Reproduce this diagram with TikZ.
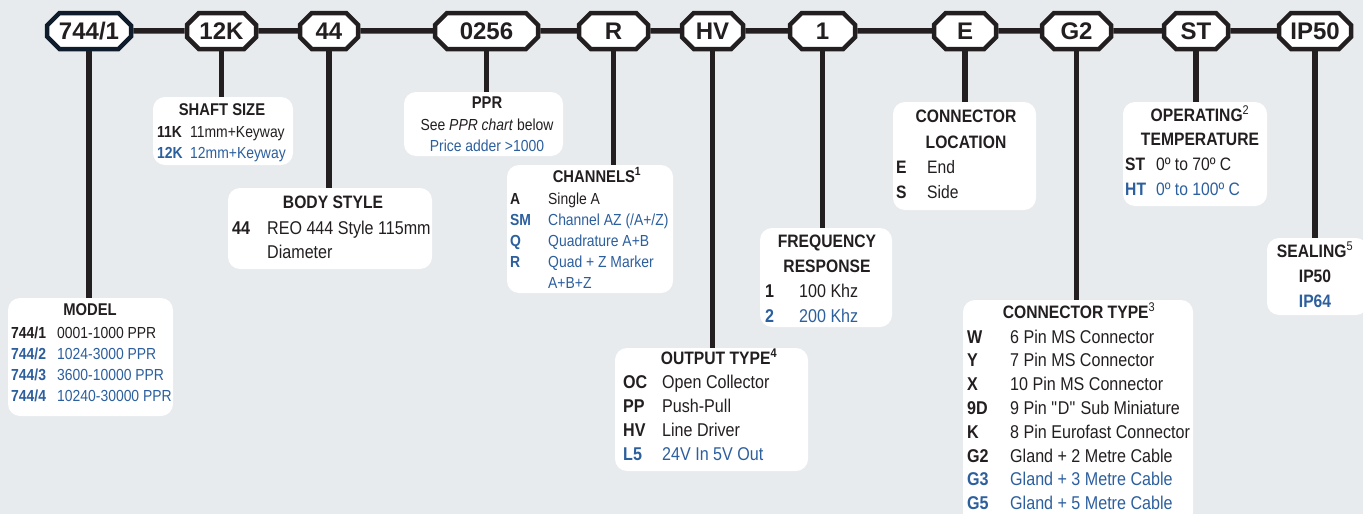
\documentclass[tikz,border=0pt]{standalone}
\usepackage{fontspec}
\setmainfont{Liberation Sans}[FakeStretch=0.87]
\newfontfamily\codefont{Liberation Sans}
\usepackage{array}
\usepackage{xcolor}
\usetikzlibrary{shapes.misc}

\definecolor{ink}{HTML}{231F20}
\definecolor{navy}{HTML}{0E1C2B}
\definecolor{reoblue}{HTML}{2C5F9E}
\definecolor{paper}{HTML}{E8EBED}
\newcommand\blu[1]{\textcolor{reoblue}{#1}}
\newcommand\brow[2]{\blu{#1} & \blu{#2}}
\newcommand\lines[1]{\begin{tabular}[t]{@{}c@{}}#1\end{tabular}}

\tikzset{
  codebox/.style={chamfered rectangle, chamfered rectangle xsep=9pt,
    draw=ink, line width=4.5pt, fill=white, minimum height=36pt, inner sep=0pt,
    text=ink, font=\codefont\bfseries\fontsize{24}{24}\selectfont},
  infobox/.style={fill=white, rounded corners=12pt, inner sep=0pt},
  link/.style={draw=ink, line width=5.5pt},
  head/.style={anchor=base, inner sep=0pt, text=ink,
    font=\bfseries\fontsize{17}{21}\selectfont},
  headb/.style={anchor=base, inner sep=0pt, text=ink,
    font=\bfseries\fontsize{18}{25}\selectfont},
  rows/.style={anchor=base west, inner sep=0pt, text=ink,
    font=\fontsize{16}{21.3}\selectfont},
  rowsb/.style={anchor=base west, inner sep=0pt, text=ink,
    font=\fontsize{18.5}{24.5}\selectfont},
}

\begin{document}
\begin{tikzpicture}[x=1pt,y=-1pt]
  \useasboundingbox[fill=paper] (0,0) rectangle (1363,514);

  % order code
  \node[codebox, draw=navy, minimum width=84pt] (c1) at (89,31) {744/1};
  \node[codebox, minimum width=69pt] (c2) at (221.5,31) {12K};
  \node[codebox, minimum width=58pt] (c3) at (329,31) {44};
  \node[codebox, minimum width=103pt] (c4) at (486.5,31) {0256};
  \node[codebox, minimum width=69pt] (c5) at (613.5,31) {R};
  \node[codebox, minimum width=61pt] (c6) at (712.5,31) {HV};
  \node[codebox, minimum width=65pt] (c7) at (822.5,31) {1};
  \node[codebox, minimum width=62pt] (c8) at (965,31) {E};
  \node[codebox, minimum width=69pt] (c9) at (1076.5,31) {G2};
  \node[codebox, minimum width=64pt] (c10) at (1196,31) {ST};
  \node[codebox, minimum width=72pt] (c11) at (1315,31) {IP50};

  \foreach \a/\b in {c1/c2,c2/c3,c3/c4,c4/c5,c5/c6,c6/c7,c7/c8,c8/c9,c9/c10,c10/c11}
    \draw[link] (\a) -- (\b);

  % option boxes
  \node[infobox, minimum width=165pt, minimum height=118pt] (model) at (90.5,357) {};
  \node[infobox, minimum width=140pt, minimum height=68pt] (shaft) at (223,131) {};
  \node[infobox, minimum width=204pt, minimum height=81pt] (body) at (330,228.5) {};
  \node[infobox, minimum width=159pt, minimum height=64pt] (ppr) at (483.5,124) {};
  \node[infobox, minimum width=166pt, minimum height=128pt] (chan) at (590,229) {};
  \node[infobox, minimum width=193pt, minimum height=123pt] (output) at (711.5,409.5) {};
  \node[infobox, minimum width=132pt, minimum height=99pt] (freq) at (826,277.5) {};
  \node[infobox, minimum width=143pt, minimum height=108pt] (loc) at (964.5,156) {};
  \node[infobox, minimum width=230pt, minimum height=225pt] (ctype) at (1078,412.5) {};
  \node[infobox, minimum width=144pt, minimum height=104pt] (temp) at (1195,154) {};
  \node[infobox, minimum width=101pt, minimum height=77pt] (seal) at (1317.5,276.5) {};

  \foreach \a/\b in {c1/model,c2/shaft,c3/body,c4/ppr,c5/chan,c6/output,c7/freq,c8/loc,c9/ctype,c10/temp,c11/seal}
    \draw[link] (\a.south) -- (\a.south |- \b.north);

  % model
  \node[head] (model-t) at (90,315) {MODEL};
  \node[rows] (model-l) at (11,338) {\begin{tabular}[t]{@{}>{\bfseries}p{46pt}@{}l@{}}
    744/1 & 0001-1000 PPR\\
    \brow{744/2}{1024-3000 PPR}\\
    \brow{744/3}{3600-10000 PPR}\\
    \brow{744/4}{10240-30000 PPR}
  \end{tabular}};

  % shaft size
  \node[head] (shaft-t) at (222,115) {SHAFT SIZE};
  \node[rows] (shaft-l) at (157,137) {\begin{tabular}[t]{@{}>{\bfseries}p{33pt}@{}l@{}}
    11K & 11mm+Keyway\\
    \brow{12K}{12mm+Keyway}
  \end{tabular}};

  % body style
  \node[headb] (body-t) at (333,208) {BODY STYLE};
  \node[rowsb, font=\fontsize{18.5}{24}\selectfont] (body-l) at (232,234) {\begin{tabular}[t]{@{}>{\bfseries}p{35pt}@{}l@{}}
    44 & REO 444 Style 115mm\\
       & Diameter
  \end{tabular}};

  % ppr
  \node[head] (ppr-t) at (487,108) {PPR};
  \node[rows, anchor=base] (ppr-a) at (487,130) {See \textit{PPR chart} below};
  \node[rows, anchor=base, text=reoblue] (ppr-b) at (487,151) {Price adder >1000};

  % channels
  \node[head] (chan-t) at (597,182) {CHANNELS\textsuperscript{1}};
  \node[rows, font=\fontsize{16}{21}\selectfont] (chan-l) at (510,204) {\begin{tabular}[t]{@{}>{\bfseries}p{38pt}@{}l@{}}
    A & Single A\\
    \brow{SM}{Channel AZ (/A+/Z)}\\
    \brow{Q}{Quadrature A+B}\\
    \brow{R}{Quad + Z Marker}\\
        & \blu{A+B+Z}
  \end{tabular}};

  % frequency response
  \node[headb] (freq-t) at (827,247) {\lines{FREQUENCY\\RESPONSE}};
  \node[rowsb, font=\fontsize{18.5}{25}\selectfont] (freq-l) at (765,297) {\begin{tabular}[t]{@{}>{\bfseries}p{34pt}@{}l@{}}
    1 & 100 Khz\\
    \brow{2}{200 Khz}
  \end{tabular}};

  % output type
  \node[headb] (output-t) at (719,364) {OUTPUT TYPE\textsuperscript{4}};
  \node[rowsb, font=\fontsize{18.5}{24.3}\selectfont] (output-l) at (623,388) {\begin{tabular}[t]{@{}>{\bfseries}p{39pt}@{}l@{}}
    OC & Open Collector\\
    PP & Push-Pull\\
    HV & Line Driver\\
    \brow{L5}{24V In 5V Out}
  \end{tabular}};

  % connector location
  \node[headb, font=\bfseries\fontsize{18}{26}\selectfont] (loc-t) at (966,122) {\lines{CONNECTOR\\LOCATION}};
  \node[rowsb, font=\fontsize{18}{25}\selectfont] (loc-l) at (896,173) {\begin{tabular}[t]{@{}>{\bfseries}p{31pt}@{}l@{}}
    E & End\\
    S & Side
  \end{tabular}};

  % operating temperature
  \node[headb, font=\bfseries\fontsize{18}{24}\selectfont] (temp-t) at (1200,121) {\lines{OPERATING\textsuperscript{\mdseries 2}\\TEMPERATURE}};
  \node[rowsb, font=\fontsize{18}{25}\selectfont] (temp-l) at (1125,170) {\begin{tabular}[t]{@{}>{\bfseries}p{31pt}@{}l@{}}
    ST & 0º to 70º C\\
    \brow{HT}{0º to 100º C}
  \end{tabular}};

  % sealing
  \node[headb] (seal-t) at (1315,257) {\lines{SEALING\textsuperscript{\mdseries 5}\\IP50\\\blu{IP64}}};

  % connector type
  \node[headb] (ctype-t) at (1079,318) {CONNECTOR TYPE\textsuperscript{\mdseries 3}};
  \node[rowsb, font=\fontsize{18.5}{23.8}\selectfont] (ctype-l) at (967,343) {\begin{tabular}[t]{@{}>{\bfseries}p{43pt}@{}l@{}}
    W & 6 Pin MS Connector\\
    Y & 7 Pin MS Connector\\
    X & 10 Pin MS Connector\\
    9D & 9 Pin \textquotedbl D\textquotedbl{} Sub Miniature\\
    K & 8 Pin Eurofast Connector\\
    G2 & Gland + 2 Metre Cable\\
    \brow{G3}{Gland + 3 Metre Cable}\\
    \brow{G5}{Gland + 5 Metre Cable}
  \end{tabular}};
\end{tikzpicture}
\end{document}
